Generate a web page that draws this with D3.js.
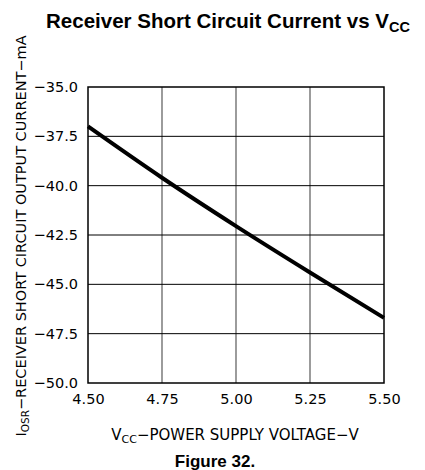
<!DOCTYPE html>
<html>
<head>
<meta charset="utf-8">
<script src="https://d3js.org/d3.v7.min.js"></script>
<style>
  body { margin: 0; background: #fff; }
  .tick text, .lbl { font-family: "DejaVu Sans", sans-serif; }
</style>
</head>
<body>
<script>
// chart values
var vcc = [4.50, 4.75, 5.00, 5.25, 5.50];
var iosr = [-37.0, -39.6, -42.05, -44.4, -46.7];
var xTicks = [4.50, 4.75, 5.00, 5.25, 5.50];
var yTicks = [-35.0, -37.5, -40.0, -42.5, -45.0, -47.5, -50.0];

var svgWidth = 425;
var svgHeight = 470;
var margin = { top: 87, right: 41, bottom: 87, left: 88 };
var width = svgWidth - margin.left - margin.right;
var height = svgHeight - margin.top - margin.bottom;

var svg = d3.select("body").append("svg")
  .attr("width", svgWidth)
  .attr("height", svgHeight);

var chartGroup = svg.append("g")
  .attr("transform", `translate(${margin.left}, ${margin.top})`);

var xScale = d3.scaleLinear().domain([4.5, 5.5]).range([0, width]);
var yScale = d3.scaleLinear().domain([-50, -35]).range([height, 0]);

// grid
chartGroup.selectAll(".vgrid")
  .data(xTicks.slice(1, -1))
  .enter().append("line")
  .attr("x1", d => xScale(d)).attr("x2", d => xScale(d))
  .attr("y1", 0).attr("y2", height)
  .attr("stroke", "#666").attr("stroke-width", 1.3);

chartGroup.selectAll(".hgrid")
  .data(yTicks.slice(1, -1))
  .enter().append("line")
  .attr("x1", 0).attr("x2", width)
  .attr("y1", d => yScale(d)).attr("y2", d => yScale(d))
  .attr("stroke", "#000").attr("stroke-width", 1);

// frame
chartGroup.append("rect")
  .attr("width", width).attr("height", height)
  .attr("fill", "none").attr("stroke", "#000").attr("stroke-width", 1.5);

// axes
var leftAxis = d3.axisLeft(yScale).tickValues(yTicks).tickSize(0).tickPadding(10)
  .tickFormat(d => d3.format(".1f")(d).replace("-", "\u2212"));
var bottomAxis = d3.axisBottom(xScale).tickValues(xTicks).tickSize(0).tickPadding(11)
  .tickFormat(d3.format(".2f"));

var yAxisG = chartGroup.append("g").call(leftAxis);
var xAxisG = chartGroup.append("g").attr("transform", `translate(0, ${height})`).call(bottomAxis);
[yAxisG, xAxisG].forEach(function(g) {
  g.select(".domain").remove();
  g.selectAll("text").attr("font-size", 14.5).attr("fill", "#000");
});

// curve
var line = d3.line().x((d, i) => xScale(vcc[i])).y(d => yScale(d)).curve(d3.curveMonotoneX);
chartGroup.append("path")
  .datum(iosr)
  .attr("d", line)
  .attr("fill", "none")
  .attr("stroke", "#000")
  .attr("stroke-width", 4);

// title
var title = svg.append("text")
  .attr("x", 228).attr("y", 28)
  .attr("text-anchor", "middle")
  .attr("font-family", "Liberation Sans, Arial, sans-serif")
  .attr("font-weight", "bold")
  .attr("font-size", 20.5);
title.append("tspan").text("Receiver Short Circuit Current vs V");
title.append("tspan").attr("dy", 4).attr("font-size", 14.5).text("CC");

// x axis label
var xl = svg.append("text").classed("lbl", true)
  .attr("x", 235).attr("y", 440)
  .attr("text-anchor", "middle")
  .attr("font-size", 15);
xl.append("tspan").text("V");
xl.append("tspan").attr("dy", 3).attr("font-size", 11).text("CC");
xl.append("tspan").attr("dy", -3).text("\u2212POWER SUPPLY VOLTAGE\u2212V");

// y axis label
var yl = svg.append("text").classed("lbl", true)
  .attr("transform", "translate(26, 236) rotate(-90)")
  .attr("text-anchor", "middle")
  .attr("font-size", 14.5);
yl.append("tspan").text("I");
yl.append("tspan").attr("dy", 3).attr("font-size", 10.5).text("OSR");
yl.append("tspan").attr("dy", -3).text("\u2212RECEIVER SHORT CIRCUIT OUTPUT CURRENT\u2212mA");

// figure caption
svg.append("text")
  .attr("x", 215).attr("y", 467)
  .attr("text-anchor", "middle")
  .attr("font-family", "Liberation Sans, Arial, sans-serif")
  .attr("font-weight", "bold")
  .attr("font-size", 17)
  .text("Figure 32.");
</script>
</body>
</html>
